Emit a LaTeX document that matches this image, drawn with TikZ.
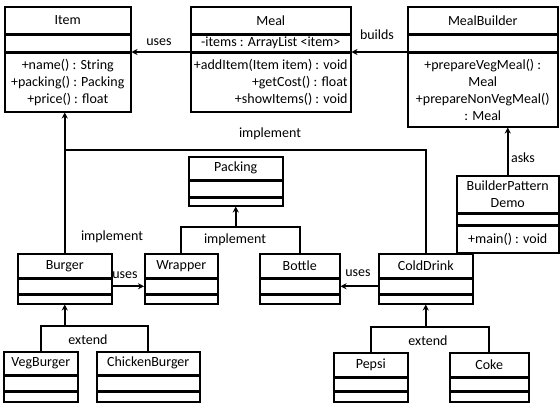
\documentclass[tikz,border=0pt]{standalone}
\usepackage{fontspec}
\setmainfont{Carlito}
\usetikzlibrary{positioning,arrows.meta}

\tikzset{
  cls/.style={draw, line width=1.5pt, inner sep=0pt, align=center},
  arr/.style={line width=1.6pt, -{Stealth[length=6pt,width=6pt]}},
  conn/.style={line width=1.6pt},
  lbl/.style={inner sep=0pt}
}

\begin{document}
\begin{tikzpicture}[x=1pt, y=-1pt, node distance=0cm, font=\fontsize{14}{17}\selectfont]
    \useasboundingbox (0,0) rectangle (560,408);

    % top row
    \node [cls, minimum width=126pt, minimum height=27pt, anchor=north west] (Item) at (4,6) {Item};
    \node [cls, minimum width=126pt, minimum height=16pt, below=0cm of Item] (Item-a) {};
    \node [cls, minimum width=126pt, minimum height=59pt, below=0cm of Item-a] (Item-m) {+name() : String\\+packing() : Packing\\+price() : float};

    \node [cls, minimum width=160pt, minimum height=27pt, anchor=north west] (Meal) at (190,6) {Meal};
    \node [cls, minimum width=160pt, minimum height=16pt, below=0cm of Meal] (Meal-a) {-items : ArrayList <item>};
    \node [cls, minimum width=160pt, minimum height=59pt, below=0cm of Meal-a, align=right] (Meal-m) {+addItem(Item item) : void\\+getCost() : float\\+showItems() : void};

    \node [cls, minimum width=150pt, minimum height=27pt, anchor=north west] (Builder) at (407,6) {MealBuilder};
    \node [cls, minimum width=150pt, minimum height=16pt, below=0cm of Builder] (Builder-a) {};
    \node [cls, minimum width=150pt, minimum height=74pt, below=0cm of Builder-a] (Builder-m) {+prepareVegMeal() :\\Meal\\+prepareNonVegMeal()\\: Meal};

    \node [cls, minimum width=102pt, minimum height=37pt, anchor=north west] (Demo) at (456,175) {BuilderPattern\\Demo};
    \node [cls, minimum width=102pt, minimum height=10pt, below=0cm of Demo] (Demo-a) {};
    \node [cls, minimum width=102pt, minimum height=27pt, below=0cm of Demo-a] (Demo-m) {+main() : void};

    \node [cls, minimum width=94pt, minimum height=23pt, anchor=north west] (Packing) at (188,156) {Packing};
    \node [cls, minimum width=94pt, minimum height=15pt, below=0cm of Packing] (Packing-a) {};
    \node [cls, minimum width=94pt, minimum height=8pt, below=0cm of Packing-a] (Packing-m) {};

    % middle row
    \node [cls, minimum width=94pt, minimum height=24pt, anchor=north west] (Burger) at (17,253) {Burger};
    \node [cls, minimum width=94pt, minimum height=14pt, below=0cm of Burger] (Burger-a) {};
    \node [cls, minimum width=94pt, minimum height=9pt, below=0cm of Burger-a] (Burger-m) {};

    \node [cls, minimum width=73pt, minimum height=24pt, anchor=north west] (Wrapper) at (144,253) {Wrapper};
    \node [cls, minimum width=73pt, minimum height=14pt, below=0cm of Wrapper] (Wrapper-a) {};
    \node [cls, minimum width=73pt, minimum height=9pt, below=0cm of Wrapper-a] (Wrapper-m) {};

    \node [cls, minimum width=80pt, minimum height=24pt, anchor=north west] (Bottle) at (259,253) {Bottle};
    \node [cls, minimum width=80pt, minimum height=14pt, below=0cm of Bottle] (Bottle-a) {};
    \node [cls, minimum width=80pt, minimum height=9pt, below=0cm of Bottle-a] (Bottle-m) {};

    \node [cls, minimum width=94pt, minimum height=24pt, anchor=north west] (ColdDrink) at (378,253) {ColdDrink};
    \node [cls, minimum width=94pt, minimum height=14pt, below=0cm of ColdDrink] (ColdDrink-a) {};
    \node [cls, minimum width=94pt, minimum height=9pt, below=0cm of ColdDrink-a] (ColdDrink-m) {};

    % bottom row
    \node [cls, minimum width=74pt, minimum height=23pt, anchor=north west] (VegBurger) at (3,351) {VegBurger};
    \node [cls, minimum width=74pt, minimum height=14pt, below=0cm of VegBurger] (VegBurger-a) {};
    \node [cls, minimum width=74pt, minimum height=10pt, below=0cm of VegBurger-a] (VegBurger-m) {};

    \node [cls, minimum width=103pt, minimum height=23pt, anchor=north west] (ChickenBurger) at (96,351) {ChickenBurger};
    \node [cls, minimum width=103pt, minimum height=14pt, below=0cm of ChickenBurger] (ChickenBurger-a) {};
    \node [cls, minimum width=103pt, minimum height=10pt, below=0cm of ChickenBurger-a] (ChickenBurger-m) {};

    \node [cls, minimum width=74pt, minimum height=24pt, anchor=north west] (Pepsi) at (333,352) {Pepsi};
    \node [cls, minimum width=74pt, minimum height=12pt, below=0cm of Pepsi] (Pepsi-a) {};
    \node [cls, minimum width=74pt, minimum height=10pt, below=0cm of Pepsi-a] (Pepsi-m) {};

    \node [cls, minimum width=79pt, minimum height=24pt, anchor=north west] (Coke) at (449,352) {Coke};
    \node [cls, minimum width=79pt, minimum height=12pt, below=0cm of Coke] (Coke-a) {};
    \node [cls, minimum width=79pt, minimum height=10pt, below=0cm of Coke-a] (Coke-m) {};

    % connectors
    \draw [arr] (Meal-a.south west) -- (Item-a.south east);
    \draw [arr] (Builder-a.south west) -- (Meal-a.south east);
    \draw [arr] (Demo.north) -- (Demo.north |- Builder-m.south);

    \coordinate (impl) at (0,150);
    \draw [arr] (Burger.north) -- (Burger.north |- Item-m.south);
    \draw [conn] (ColdDrink.north) |- (Burger.north |- impl);

    \coordinate (pack) at (0,227);
    \draw [conn] (Wrapper.north) |- (Bottle.north |- pack) -- (Bottle.north);
    \draw [arr] (Packing-m.south |- pack) -- (Packing-m.south);

    \draw [arr] (Burger-a.east) -- (Wrapper-a.west);
    \draw [arr] (ColdDrink-a.west) -- (Bottle-a.east);

    \coordinate (bext) at (0,326);
    \draw [conn] (VegBurger.north) |- (ChickenBurger.north |- bext) -- (ChickenBurger.north);
    \draw [arr] (Burger-m.south |- bext) -- (Burger-m.south);

    \coordinate (cext) at (0,327);
    \draw [conn] (Pepsi.north) |- (Coke.north |- cext) -- (Coke.north);
    \draw [arr] (ColdDrink-m.south |- cext) -- (ColdDrink-m.south);

    % labels
    \node [lbl] (usesItem) at (159,42) {uses};
    \node [lbl] (builds) at (377,35) {builds};
    \node [lbl] (asks) at (523,158) {asks};
    \node [lbl] (implTop) at (270,134) {implement};
    \node [lbl] (implBurger) at (112,237) {implement};
    \node [lbl] (implPack) at (235,240) {implement};
    \node [lbl] (usesWrapper) at (125,275) {uses};
    \node [lbl] (usesBottle) at (358,273) {uses};
    \node [lbl] (extBurger) at (88,340) {extend};
    \node [lbl] (extDrink) at (428,341) {extend};
\end{tikzpicture}
\end{document}
